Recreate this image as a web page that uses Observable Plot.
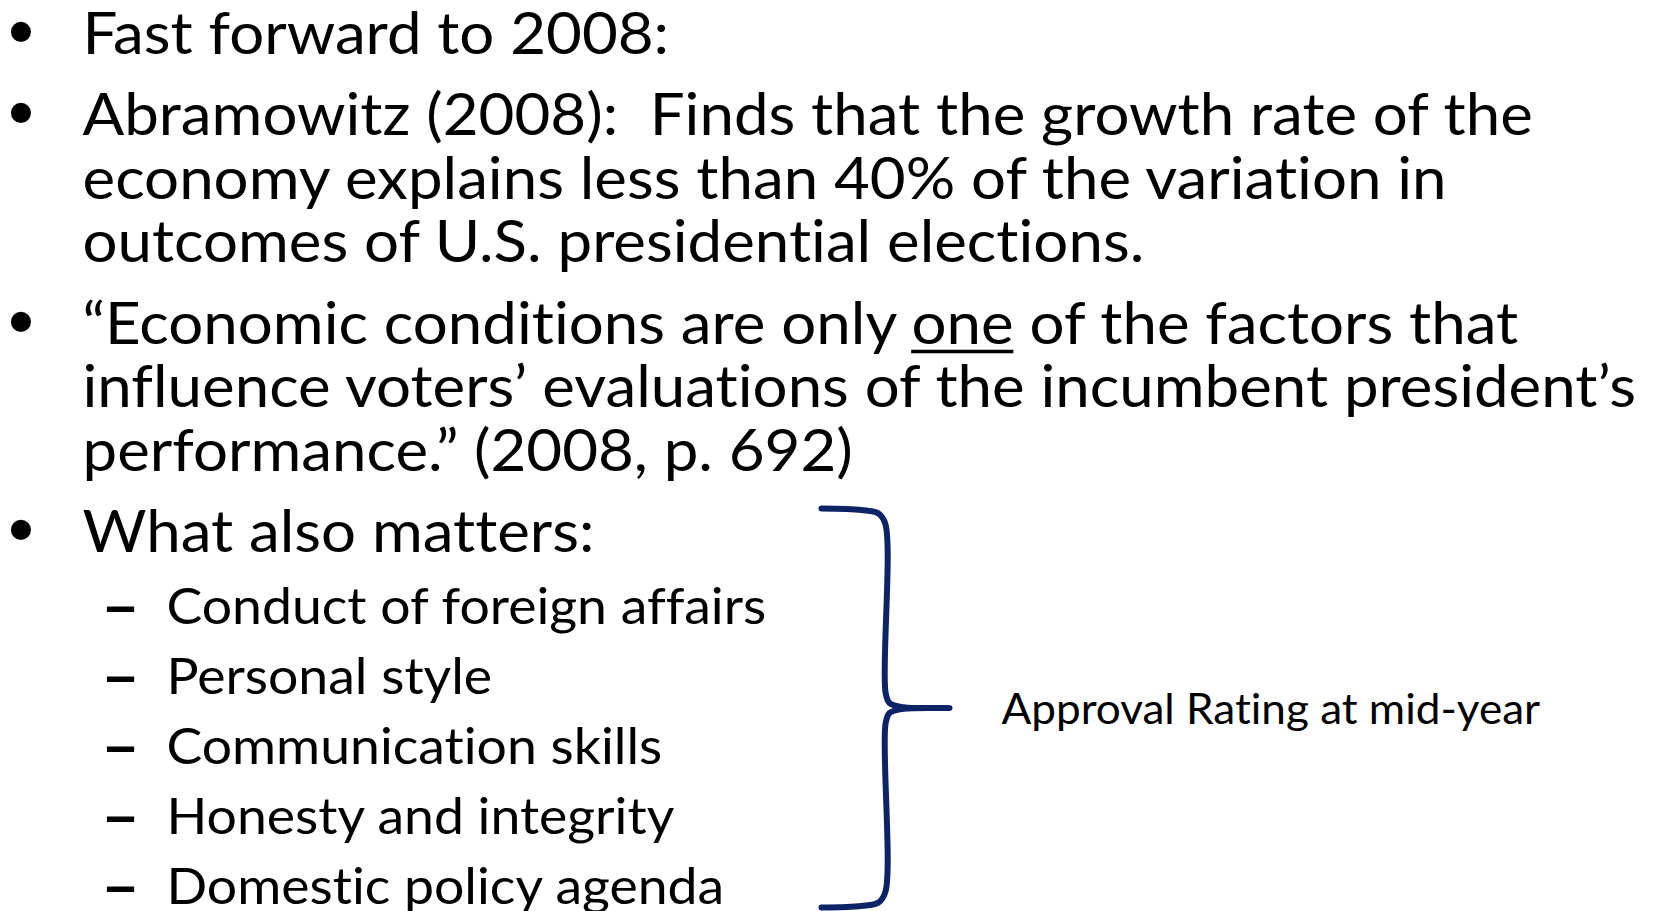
<!DOCTYPE html>
<html>
<head>
<meta charset="utf-8">
<script src="https://cdn.jsdelivr.net/npm/d3@7"></script>
<script src="https://cdn.jsdelivr.net/npm/@observablehq/plot@0.6"></script>
<style>
  html, body { margin: 0; padding: 0; background: #ffffff; }
  #chart svg { display: block; }
  svg text { font-variant-ligatures: none; }
</style>
</head>
<body>
<div id="chart"></div>
<script>
// ---- content ----
const mainPoints = [
  ["Fast forward to 2008:"],
  ["Abramowitz (2008):\u00A0 Finds that the growth rate of the",
   "economy explains less than 40% of the variation in",
   "outcomes of U.S. presidential elections."],
  ["\u201CEconomic conditions are only one of the factors that",
   "influence voters\u2019 evaluations of the incumbent president\u2019s",
   "performance.\u201D (2008, p. 692)"],
  ["What also matters:"]
];
const subPoints = [
  "Conduct of foreign affairs",
  "Personal style",
  "Communication skills",
  "Honesty and integrity",
  "Domestic policy agenda"
];
const underlinedWord = "one";
const underlinedPrefix = "\u201CEconomic conditions are only ";
const braceLabel = "Approval Rating at mid-year";

// ---- style / layout ----
const W = 1665, H = 911;
const FONT = "Lato";
const mainSize = 57.5, subSize = 51, labelSize = 42;
const sxMain = 1.075, sxSub = 1.05, sxLabel = 1.05; // horizontal glyph scale
const firstBaseline = 53, lineStep = 63.5, paraStep = 81.5, subFirst = 72, subStep = 70;
const bulletX = 20.5, textX = 82, dashX = 120, subTextX = 166;
const navy = "#0c2366";

// build layout rows
const rows = [];
const subRows = [];
const bullets = [];
let y = firstBaseline;
mainPoints.forEach((para, pi) => {
  if (pi > 0) y += paraStep;
  para.forEach((line, li) => {
    if (li > 0) y += lineStep;
    rows.push({text: line, x: textX, y});
    if (li === 0) bullets.push({glyph: "\u2022", x: bulletX, y});
  });
});
const dashes = [];
subPoints.forEach((s, i) => {
  y += i === 0 ? subFirst : subStep;
  subRows.push({text: s, x: subTextX, y});
  dashes.push({glyph: "\u2013", x: dashX, y});
});

// measure the underlined word inside its line (same font, via a temporary SVG text)
const ulRow = rows.find(r => r.text.startsWith(underlinedPrefix));
const tmp = d3.select("body").append("svg").attr("width", 10).attr("height", 10);
const tnode = tmp.append("text").attr("font-family", FONT).attr("font-size", mainSize).text(ulRow.text).node();
const preW = tnode.getSubStringLength(0, underlinedPrefix.length);
const wordW = tnode.getSubStringLength(underlinedPrefix.length, underlinedWord.length);
tmp.remove();
const ulX1 = ulRow.x + preW * sxMain;
const underline = [{x1: ulX1, x2: ulX1 + wordW * sxMain, y: ulRow.y + 8}];

// brace geometry (derived from sub list extent)
const bTop = 508, bBot = 907, bMid = (bTop + bBot) / 2;
const bLeft = 821, bV = 885, bTip = 949;
const brace = [
  [bLeft, bTop], [bLeft + 40, bTop + 1.5], [bV - 7, bTop + 5], [bV, bTop + 16],
  [bV, bMid - 16], [bV + 4, bMid - 5], [bV + 18, bMid - 0.8], [bTip, bMid],
  [bV + 18, bMid + 0.8], [bV + 4, bMid + 5], [bV, bMid + 16],
  [bV, bBot - 16], [bV - 7, bBot - 5], [bLeft + 40, bBot - 1.5], [bLeft, bBot]
].map(([x, y]) => ({x, y}));
const label = [{text: braceLabel, x: 1001, y: 723}];

const marks = [
  Plot.text(bullets, {x: "x", y: "y", text: "glyph", fontSize: 74, fontFamily: "Liberation Sans", textAnchor: "middle", lineAnchor: "bottom", dy: 3, fill: "#000"}),
  Plot.text(dashes, {x: "x", y: "y", text: "glyph", fontSize: 55, fontWeight: "bold", fontFamily: "Liberation Sans", textAnchor: "middle", lineAnchor: "bottom", fill: "#000"}),
  Plot.text(rows, {x: "x", y: "y", text: "text", fontSize: mainSize, textAnchor: "start", lineAnchor: "bottom", fill: "#000"}),
  Plot.text(subRows, {x: "x", y: "y", text: "text", fontSize: subSize, textAnchor: "start", lineAnchor: "bottom", fill: "#000"}),
  Plot.ruleY(underline, {y: "y", x1: "x1", x2: "x2", stroke: "#000", strokeWidth: 3.5}),
  Plot.line(brace, {x: "x", y: "y", curve: "catmull-rom", stroke: navy, strokeWidth: 6, strokeLinecap: "round", strokeLinejoin: "round"}),
  Plot.text(label, {x: "x", y: "y", text: "text", fontSize: labelSize, textAnchor: "start", lineAnchor: "bottom", fill: "#000"})
];
const stretchByMark = new Map([[2, sxMain], [3, sxSub], [6, sxLabel]]);

const plot = Plot.plot({
  width: W, height: H,
  margin: 0,
  x: {domain: [0, W], range: [0, W], axis: null},
  y: {domain: [0, H], range: [0, H], axis: null},
  style: {background: "#ffffff", fontFamily: FONT, color: "#000"},
  marks
});

// widen glyphs horizontally to approximate the slide font's proportions
const groups = Array.from(plot.children).filter(n => n.tagName.toLowerCase() === "g");
stretchByMark.forEach((s, idx) => {
  const g = groups[idx];
  if (!g) return;
  g.querySelectorAll("text").forEach(t => {
    const x = +(t.getAttribute("x") || 0), yy = +(t.getAttribute("y") || 0);
    const tr = t.getAttribute("transform") || "";
    t.removeAttribute("x");
    t.removeAttribute("y");
    t.setAttribute("transform", `${tr} translate(${x},${yy}) scale(${s},1)`);
  });
});

document.getElementById("chart").appendChild(plot);
</script>
</body>
</html>
